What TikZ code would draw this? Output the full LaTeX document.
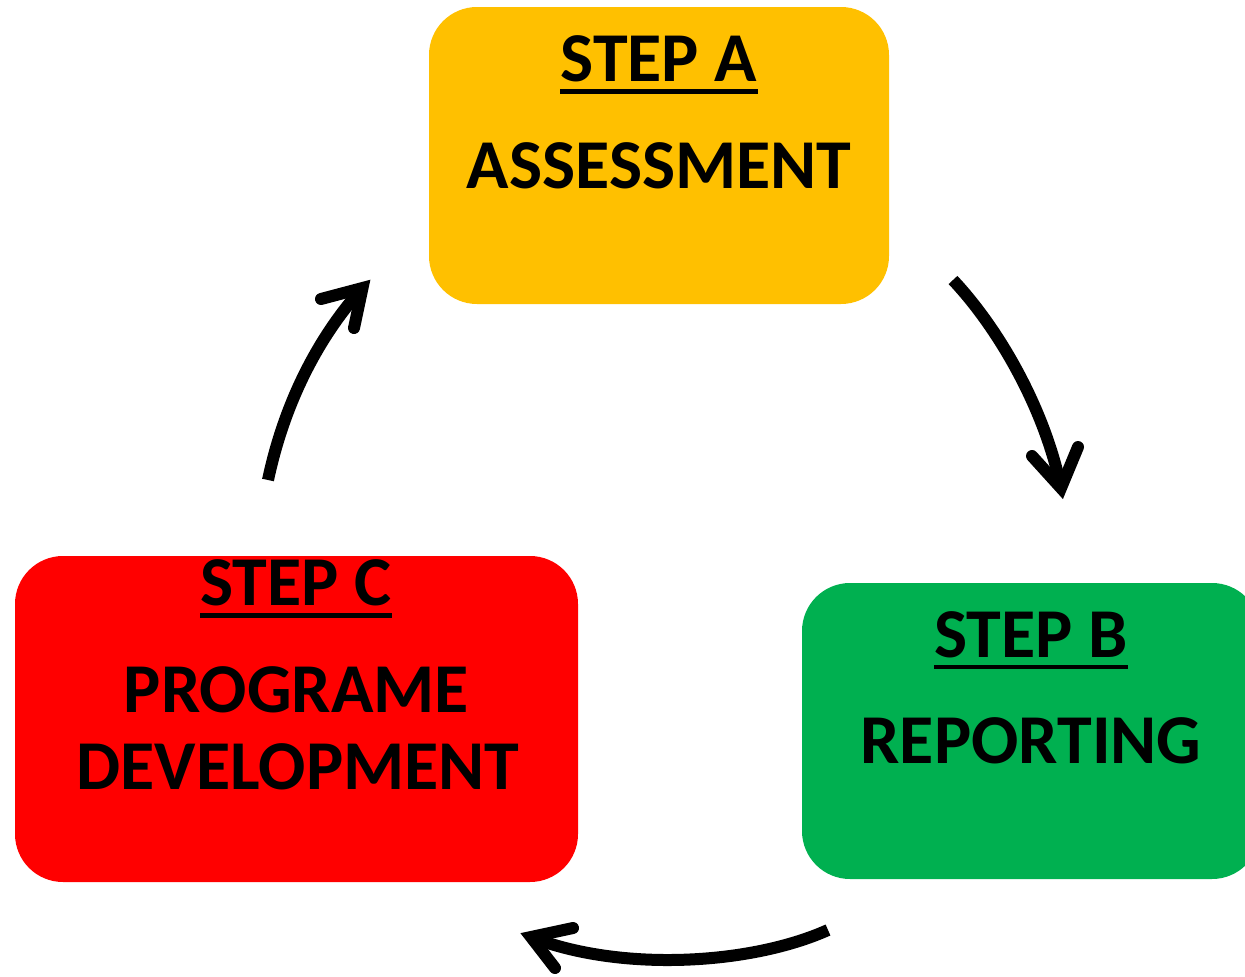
\documentclass[tikz,border=0pt]{standalone}
\usepackage{fontspec}
\setmainfont{Carlito}
\definecolor{stepyellow}{HTML}{FFC000}
\definecolor{stepgreen}{HTML}{00B050}
\definecolor{stepred}{HTML}{FF0000}
\begin{document}
\begin{tikzpicture}[x=1pt,y=-1pt,
  stepbox/.style={rectangle, rounded corners=48pt, draw=none, inner sep=0pt},
  title/.style={font=\fontsize{70}{78}\selectfont\bfseries, inner sep=0pt, anchor=base},
  uline/.style={line width=4.5pt},
  arrowline/.style={line width=12pt, line cap=butt},
  arrowhd/.style={line width=12pt, line cap=round, line join=miter}
]
\useasboundingbox (0,0) rectangle (1245,977);
\clip (0,0) rectangle (1245,977);

% boxes
\node[stepbox, fill=stepyellow, minimum width=460pt, minimum height=297pt] (boxA) at (659,155.5) {};
\node[stepbox, fill=stepgreen, minimum width=458pt, minimum height=296pt] (boxB) at (1031,731) {};
\node[stepbox, fill=stepred, minimum width=563pt, minimum height=326pt] (boxC) at (296.5,719) {};

% texts
\node[title] (stepA) at (659,81.5) {STEP A};
\node[title] (assess) at (659,188) {ASSESSMENT};
\node[title] (stepB) at (1031,657) {STEP B};
\node[title] (report) at (1031,763) {REPORTING};
\node[title] (stepC) at (296,605) {STEP C};
\node[title] (progr) at (296.5,712) {PROGRAME};
\node[title] (devel) at (298,789.5) {DEVELOPMENT};

% underlines
\draw[uline] ([yshift=-10pt]stepA.base west) -- ([yshift=-10pt]stepA.base east);
\draw[uline] ([yshift=-10pt]stepB.base west) -- ([yshift=-10pt]stepB.base east);
\draw[uline] ([yshift=-10.5pt]stepC.base west) -- ([yshift=-10.5pt]stepC.base east);

% arrow A -> B
\coordinate (a1s) at (953,280);
\coordinate (a1t) at (1061,488);
\draw[arrowline] (a1s) .. controls (1000,330) and (1045,410) .. (a1t);
\draw[arrowhd] (1032,456) -- (a1t) -- (1078,447);

% arrow B -> C
\coordinate (a2s) at (828,930);
\coordinate (a2t) at (531,937);
\draw[arrowline] (a2s) .. controls (750,965) and (620,972) .. (a2t);
\draw[arrowhd] (573,928) -- (a2t) -- (555,968);

% arrow C -> A
\coordinate (a3s) at (268,480);
\coordinate (a3t) at (362.5,288);
\draw[arrowline] (a3s) .. controls (285,400) and (320,335) .. (a3t);
\draw[arrowhd] (321,299) -- (a3t) -- (354,328);
\end{tikzpicture}
\end{document}
